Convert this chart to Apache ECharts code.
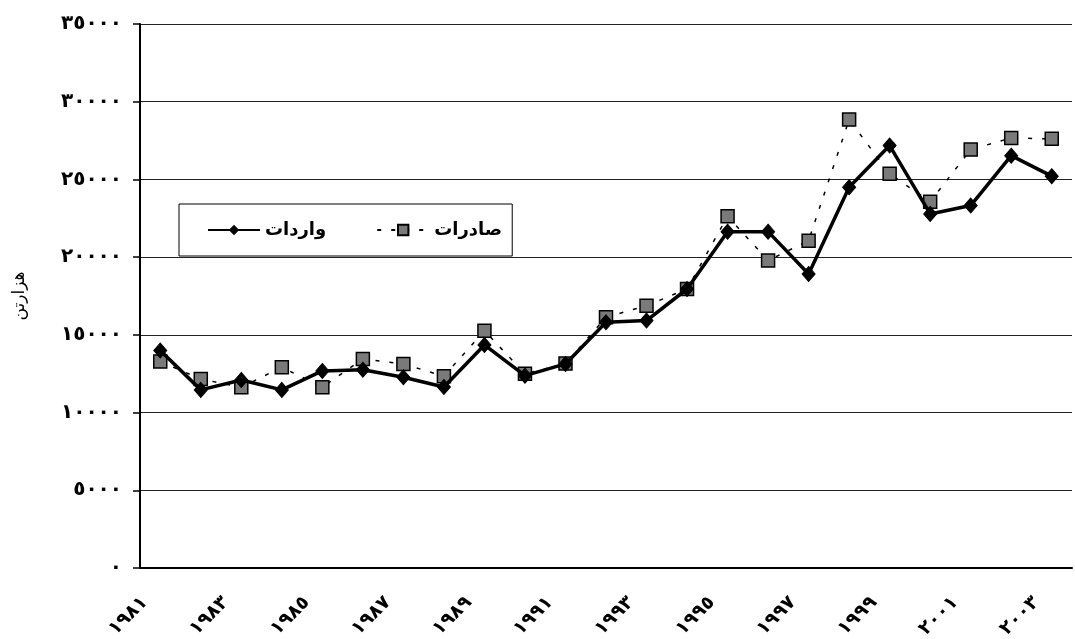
<!DOCTYPE html>
<html>
<head>
<meta charset="utf-8">
<script src="https://cdn.jsdelivr.net/npm/echarts@6/dist/echarts.min.js"></script>
<style>
  html, body { margin: 0; padding: 0; background: #fff; }
  #main { width: 1075px; height: 639px; }
</style>
</head>
<body>
<div id="main"></div>
<script>
var years = [1981, 1982, 1983, 1984, 1985, 1986, 1987, 1988, 1989, 1990, 1991, 1992,
  1993, 1994, 1995, 1996, 1997, 1998, 1999, 2000, 2001, 2002, 2003];
// واردات
var imports = [13990, 11460, 12100, 11460, 12680, 12760, 12270, 11650, 14350, 12375, 13130, 15810,
  15920, 17950, 21640, 21640, 18920, 24500, 27180, 22780, 23320, 26530, 25210];
// صادرات
var exportsData = [13280, 12160, 11630, 12920, 11630, 13450, 13130, 12340, 15270, 12490, 13150, 16130,
  16880, 17950, 22630, 19780, 21060, 28850, 25360, 23570, 26920, 27670, 27610];

var digits = '٠١٢٣٤٥٦٧٨٩';
function toLocal(v) {
  return String(v).replace(/[0-9]/g, function (d) { return digits[+d]; });
}

var chartDom = document.getElementById('main');
var myChart = echarts.init(chartDom);
var option = {
  animation: false,
  backgroundColor: '#fff',
  grid: {
    left: 140,
    right: 3,
    top: 24,
    bottom: 71,
    outerBoundsMode: 'none'
  },
  legend: {
    left: 179,
    top: 204,
    orient: 'horizontal',
    backgroundColor: '#fff',
    borderColor: '#000',
    borderWidth: 1,
    padding: [17, 10, 17, 28],
    itemWidth: 52,
    itemHeight: 13,
    itemGap: 50,
    data: ['واردات', 'صادرات'],
    textStyle: {
      fontFamily: 'DejaVu Sans',
      fontWeight: 'bold',
      fontSize: 18,
      color: '#000'
    }
  },
  xAxis: {
    type: 'category',
    data: years,
    boundaryGap: true,
    axisLine: { lineStyle: { color: '#000', width: 2 } },
    axisTick: { interval: 0, length: 8, lineStyle: { color: '#000', width: 1.5 } },
    axisLabel: {
      interval: 1,
      rotate: 45,
      margin: 16,
      padding: [0, 22, 0, 0],
      fontFamily: 'DejaVu Sans',
      fontWeight: 'bold',
      fontSize: 19,
      color: '#000',
      formatter: function (v) { return toLocal(v); }
    },
    splitLine: { show: false }
  },
  yAxis: {
    type: 'value',
    min: 0,
    max: 35000,
    interval: 5000,
    name: 'هزارتن',
    nameLocation: 'middle',
    nameGap: 112,
    nameTextStyle: {
      fontFamily: 'DejaVu Sans',
      fontSize: 17,
      color: '#000'
    },
    axisLine: { show: true, lineStyle: { color: '#000', width: 2 } },
    axisTick: { show: true, length: 7, lineStyle: { color: '#000', width: 1.5 } },
    axisLabel: {
      margin: 18,
      fontFamily: 'DejaVu Sans',
      fontWeight: 'bold',
      fontSize: 20,
      color: '#000',
      formatter: function (v) { return toLocal(v); }
    },
    splitLine: { show: true, lineStyle: { color: '#222', width: 1 } }
  },
  series: [{
    name: 'صادرات',
    type: 'line',
    data: exportsData,
    z: 2,
    symbol: 'rect',
    symbolSize: 13,
    lineStyle: { color: '#000', width: 1.5, type: [4, 10] },
    itemStyle: { color: '#7a7a7a', borderColor: '#000', borderWidth: 1.5 }
  }, {
    name: 'واردات',
    type: 'line',
    data: imports,
    z: 3,
    symbol: 'diamond',
    symbolSize: [13, 15],
    lineStyle: { color: '#000', width: 3.5 },
    itemStyle: { color: '#000', borderColor: '#000' }
  }]
};
myChart.setOption(option);
</script>
</body>
</html>
